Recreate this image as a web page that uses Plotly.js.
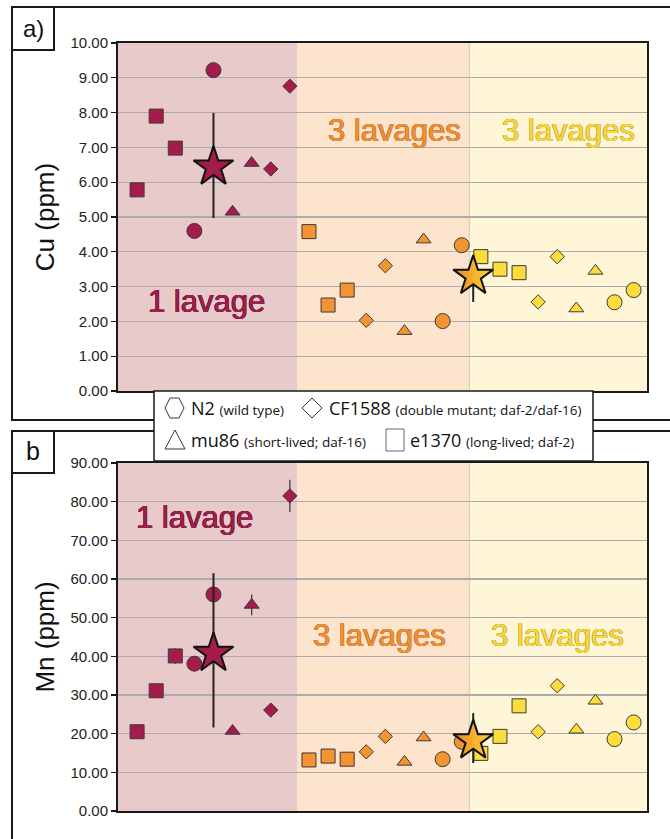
<!DOCTYPE html>
<html>
<head>
<meta charset="utf-8">
<script src="https://cdn.plot.ly/plotly-3.0.1.min.js"></script>
<style>html,body{margin:0;padding:0;background:#fff;}#chart{width:670px;height:839px;}</style>
</head>
<body>
<div id="chart"></div>
<script>
// ---------- DATA ----------
const groupLabels = ['1 lavage', '3 lavages', '3 lavages'];
const strainNames = ['N2', 'CF1588', 'mu86', 'e1370'];
const strainNotes = ['(wild type)', '(double mutant; daf-2/daf-16)', '(short-lived; daf-16)', '(long-lived; daf-2)'];

// jitter positions (column index) per group
const xSquare   = [[1, 2, 3], [10, 11, 12], [19, 20, 21]];
const xCircle   = [[4, 5], [17, 18], [26, 27]];
const xTriangle = [[6, 7], [15, 16], [24, 25]];
const xDiamond  = [[8, 9], [13, 14], [22, 23]];
const xMean     = [5, 18.6];

// Cu (ppm)
const cuCircle   = [[4.60, 9.22], [2.01, 4.19], [2.55, 2.90]];
const cuDiamond  = [[6.38, 8.76], [2.03, 3.60], [2.56, 3.86]];
const cuTriangle = [[5.15, 6.55], [1.72, 4.35], [2.37, 3.45]];
const cuSquare   = [[5.78, 7.90, 6.98], [4.58, 2.47, 2.90], [3.86, 3.50, 3.40]];
const cuMean      = [6.44, 3.30];
const cuMeanPlus  = [1.55, 0.30];
const cuMeanMinus = [1.47, 0.74];

// Mn (ppm)
const mnCircle   = [[38.1, 56.0], [13.4, 17.9], [18.6, 22.9]];
const mnDiamond  = [[26.1, 81.5], [15.3, 19.3], [20.5, 32.4]];
const mnTriangle = [[20.7, 53.3], [12.7, 19.0], [21.0, 28.5]];
const mnSquare   = [[20.5, 31.1, 40.1], [13.2, 14.2, 13.4], [14.9, 19.3, 27.2]];
const mnCircleErr   = [[0, 0], [0, 0], [0, 0]];
const mnDiamondErr  = [[0, 4.2], [0, 0], [0, 0]];
const mnTriangleErr = [[0, 2.7], [0, 0], [0, 0]];
const mnSquareErr   = [[0, 0, 2.0], [0, 0, 0], [0, 0, 0]];
const mnMean      = [40.8, 18.2];
const mnMeanPlus  = [20.7, 7.1];
const mnMeanMinus = [19.2, 5.8];

// ---------- STYLE ----------
const W0 = 670, H0 = 839;
const L = 118, R = 23, T = 43, B = 28;
const PW = W0 - L - R, PH = H0 - T - B;
const px = x => (x - L) / PW;
const py = y => (H0 - B - y) / PH;

const fillColors = ['#A51B4B', '#F39332', '#FEDC3C'];
const bgColors = ['#E9CACA', '#FCE4CD', '#FFF5D7'];
const textFill = ['#A01E4B', '#F28F30', '#F9D83A'];
const textEdge = ['#5a0d26', '#b0601e', '#a88c12'];
const regionEdges = [0, 9.4, 18.4, 27.7];

const traces = [];
function addPoints(xs, ys, errs, symbol, size, xa, ya) {
  for (let g = 0; g < 3; g++) {
    const t = {
      type: 'scatter', mode: 'markers', x: xs[g], y: ys[g], xaxis: xa, yaxis: ya,
      showlegend: false, hoverinfo: 'skip',
      marker: {symbol: symbol, size: size, color: fillColors[g], line: {color: '#3a3a3a', width: 1}}
    };
    if (errs) {
      t.error_y = {type: 'data', array: errs[g], visible: true, color: '#333', thickness: 1.2, width: 0};
    }
    traces.push(t);
  }
}
// top panel
addPoints(xSquare, cuSquare, null, 'square', 14, 'x', 'y');
addPoints(xCircle, cuCircle, null, 'circle', 15, 'x', 'y');
addPoints(xTriangle, cuTriangle, null, 'triangle-up', 13, 'x', 'y');
addPoints(xDiamond, cuDiamond, null, 'diamond', 11, 'x', 'y');
// bottom panel
addPoints(xSquare, mnSquare, mnSquareErr, 'square', 14, 'x2', 'y2');
addPoints(xCircle, mnCircle, mnCircleErr, 'circle', 15, 'x2', 'y2');
addPoints(xTriangle, mnTriangle, mnTriangleErr, 'triangle-up', 13, 'x2', 'y2');
addPoints(xDiamond, mnDiamond, mnDiamondErr, 'diamond', 11, 'x2', 'y2');

function addStars(means, plus, minus, xa, ya) {
  for (let i = 0; i < 2; i++) {
    const m = {symbol: 'star', size: 30, color: i === 0 ? fillColors[0] : '#F0841F', line: {color: '#111', width: 2}};
    if (i === 1) m.gradient = {type: 'horizontal', color: '#FDD83C'};
    traces.push({
      type: 'scatter', mode: 'markers', x: [xMean[i]], y: [means[i]], xaxis: xa, yaxis: ya,
      showlegend: false, hoverinfo: 'skip', marker: m,
      error_y: {type: 'data', symmetric: false, array: [plus[i]], arrayminus: [minus[i]], visible: true, color: '#222', thickness: 2, width: 0}
    });
  }
}
addStars(cuMean, cuMeanPlus, cuMeanMinus, 'x', 'y');
addStars(mnMean, mnMeanPlus, mnMeanMinus, 'x2', 'y2');

// ---------- SHAPES ----------
const shapes = [];
['x', 'x2'].forEach((xa, k) => {
  const ya = k === 0 ? 'y' : 'y2';
  for (let g = 0; g < 3; g++) {
    shapes.push({type: 'rect', xref: xa, yref: ya + ' domain', x0: regionEdges[g], x1: regionEdges[g + 1], y0: 0, y1: 1,
      fillcolor: bgColors[g], line: {width: 0}, layer: 'below'});
  }
  shapes.push({type: 'line', xref: xa, yref: ya + ' domain', x0: regionEdges[2], x1: regionEdges[2], y0: 0, y1: 1,
    line: {color: 'rgba(170,170,170,0.55)', width: 1}, layer: 'below'});
});
const frameLine = {color: '#1a1a1a', width: 2};
// outer panel frames
shapes.push({type: 'rect', xref: 'paper', yref: 'paper', x0: px(12), x1: px(690), y0: py(420), y1: py(7), line: frameLine, fillcolor: 'rgba(0,0,0,0)', layer: 'above'});
shapes.push({type: 'rect', xref: 'paper', yref: 'paper', x0: px(12), x1: px(690), y0: py(860), y1: py(431), line: frameLine, fillcolor: 'rgba(0,0,0,0)', layer: 'above'});
// label boxes
shapes.push({type: 'rect', xref: 'paper', yref: 'paper', x0: px(12), x1: px(54), y0: py(50), y1: py(7), line: frameLine, fillcolor: '#fff'});
shapes.push({type: 'rect', xref: 'paper', yref: 'paper', x0: px(12), x1: px(54), y0: py(473), y1: py(431), line: frameLine, fillcolor: '#fff'});
// legend box
shapes.push({type: 'rect', xref: 'paper', yref: 'paper', x0: px(154), x1: px(593), y0: py(461), y1: py(391), line: {color: '#1a1a1a', width: 1.5}, fillcolor: '#fff'});
function poly(pts) {
  return 'M' + pts.map(p => px(p[0]) + ',' + py(p[1])).join(' L') + ' Z';
}
const symLine = {color: '#333', width: 1};
shapes.push({type: 'path', xref: 'paper', yref: 'paper', path: poly([[165, 408], [170, 398], [179, 398], [184, 408], [179, 418], [170, 418]]), line: symLine});
shapes.push({type: 'path', xref: 'paper', yref: 'paper', path: poly([[312, 398], [322, 408], [312, 418], [302, 408]]), line: symLine});
shapes.push({type: 'path', xref: 'paper', yref: 'paper', path: poly([[175, 430], [185, 449], [165, 449]]), line: symLine});
shapes.push({type: 'rect', xref: 'paper', yref: 'paper', x0: px(386), x1: px(404), y0: py(451), y1: py(429), line: {color: '#666', width: 1}});

// ---------- ANNOTATIONS ----------
const annotations = [];
function outline(c) {
  const d = '0.45px';
  return `-${d} 0 ${c}, ${d} 0 ${c}, 0 -${d} ${c}, 0 ${d} ${c}`;
}
const labelPos = [
  {xa: 'x', ya: 'y', pts: [[4.66, 2.56], [14.5, 7.5], [23.6, 7.5]]},
  {xa: 'x2', ya: 'y2', pts: [[4.0, 75.8], [13.7, 45.5], [23.0, 45.5]]}
];
labelPos.forEach(lp => {
  lp.pts.forEach((p, g) => {
    annotations.push({xref: lp.xa, yref: lp.ya, x: p[0], y: p[1], xanchor: 'center', yanchor: 'middle',
      text: groupLabels[g], showarrow: false,
      font: {family: 'Liberation Sans, Arial, sans-serif', size: 31, color: textFill[g], shadow: outline(textEdge[g])}});
  });
});
annotations.push({xref: 'paper', yref: 'paper', x: px(33), y: py(28), xanchor: 'center', yanchor: 'middle', text: 'a)', showarrow: false,
  font: {family: 'Liberation Sans, Arial, sans-serif', size: 24, color: '#111'}});
annotations.push({xref: 'paper', yref: 'paper', x: px(33), y: py(451), xanchor: 'center', yanchor: 'middle', text: 'b', showarrow: false,
  font: {family: 'Liberation Sans, Arial, sans-serif', size: 25, color: '#111'}});
const legPos = [[189, 408], [327, 408], [189, 440], [408, 440]];
strainNames.forEach((s, i) => {
  annotations.push({xref: 'paper', yref: 'paper', x: px(legPos[i][0]), y: py(legPos[i][1]), xanchor: 'left', yanchor: 'middle',
    text: s + ' <span style="font-size:13.5px">' + strainNotes[i] + '</span>', showarrow: false,
    font: {family: 'Open Sans, Noto Sans, sans-serif', size: 18, color: '#111'}});
});

// ---------- LAYOUT ----------
const xBase = {range: [0, 27.7], showticklabels: false, showgrid: false, zeroline: false, ticks: '',
  showline: true, mirror: true, linecolor: '#1a1a1a', linewidth: 2, fixedrange: true};
const yBase = {showline: true, mirror: true, linecolor: '#1a1a1a', linewidth: 2, ticks: 'outside', ticklen: 5,
  tickcolor: '#1a1a1a', tickwidth: 1.2, gridcolor: '#ababab', gridwidth: 1.2, zeroline: false, tickformat: '.2f',
  tickfont: {family: 'Liberation Sans, Arial, sans-serif', size: 15, color: '#222'}, fixedrange: true};
const layout = {
  width: W0, height: H0,
  margin: {l: L, r: R, t: T, b: B, pad: 0},
  paper_bgcolor: '#fff', plot_bgcolor: '#fff',
  showlegend: false,
  xaxis: Object.assign({}, xBase, {domain: [0, 1], anchor: 'y'}),
  xaxis2: Object.assign({}, xBase, {domain: [0, 1], anchor: 'y2'}),
  yaxis: Object.assign({}, yBase, {domain: [py(391), py(43)], anchor: 'x', range: [0, 10], dtick: 1,
    title: {text: 'Cu (ppm)', standoff: 8, font: {family: 'Liberation Sans, Arial, sans-serif', size: 26, color: '#111'}}}),
  yaxis2: Object.assign({}, yBase, {domain: [0, py(463)], anchor: 'x2', range: [0, 90], dtick: 10,
    title: {text: 'Mn (ppm)', standoff: 8, font: {family: 'Liberation Sans, Arial, sans-serif', size: 26, color: '#111'}}}),
  shapes: shapes,
  annotations: annotations
};
Plotly.newPlot('chart', traces, layout, {displayModeBar: false, staticPlot: true});
</script>
</body>
</html>
